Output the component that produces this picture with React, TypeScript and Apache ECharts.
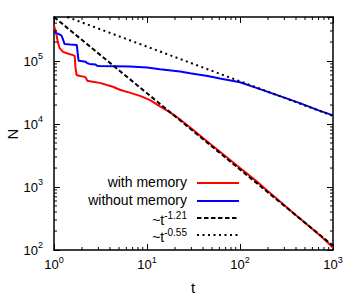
import React, { useEffect, useRef } from 'react';
import * as echarts from 'echarts';

const withMemoryT = [1, 1.05, 1.1, 1.15, 1.25, 1.4, 1.6, 1.67, 1.7, 1.75, 1.9, 2.15, 2.22, 2.28, 2.6, 3.1, 4.3, 5.1, 6.5, 8.4, 10.8, 13.8, 17.7, 22.7, 30, 40, 60, 100, 150, 200, 300, 400, 500, 700, 850, 1000];
const withMemoryN = [3.6e5, 2.9e5, 2.0e5, 1.6e5, 1.4e5, 1.32e5, 1.24e5, 1.2e5, 8.0e4, 6.0e4, 5.8e4, 5.6e4, 5.3e4, 4.85e4, 4.7e4, 4.5e4, 3.9e4, 3.5e4, 3.15e4, 2.8e4, 2.4e4, 1.9e4, 1.53e4, 1.18e4, 8.5e3, 6.0e3, 3.7e3, 2.0e3, 1.24e3, 860, 515, 355, 270, 178, 138, 108];

const withoutMemoryT = [1, 1.1, 1.2, 1.25, 1.3, 1.5, 1.76, 1.8, 1.84, 2.2, 2.26, 2.4, 2.8, 2.9, 3.1, 4.5, 6.56, 10, 13.8, 22.7, 29, 45, 60.8, 100, 150, 210, 300, 440, 700, 1000];
const withoutMemoryN = [2.85e5, 2.72e5, 2.55e5, 2.2e5, 1.86e5, 1.83e5, 1.8e5, 1.3e5, 1.01e5, 9.7e4, 9.3e4, 9.0e4, 8.8e4, 8.4e4, 8.35e4, 8.3e4, 8.2e4, 7.9e4, 7.4e4, 6.8e4, 6.4e4, 5.8e4, 5.3e4, 4.6e4, 3.75e4, 3.15e4, 2.62e4, 2.15e4, 1.65e4, 1.37e4];

const steepFitT = [1, 1000];
const steepFitN = [5e5, 117];
const shallowFitT = [1.39, 1000];
const shallowFitN = [5e5, 13450];

const xMinorTicks = [2, 3, 4, 5, 6, 7, 8, 9, 20, 30, 40, 50, 60, 70, 80, 90, 200, 300, 400, 500, 600, 700, 800, 900];
const yMinorTicks = [200, 300, 400, 500, 600, 700, 800, 900, 2000, 3000, 4000, 5000, 6000, 7000, 8000, 9000, 2e4, 3e4, 4e4, 5e4, 6e4, 7e4, 8e4, 9e4, 2e5, 3e5, 4e5];

const legendLabels = ['with memory', 'without memory', '~t{s|-1.21}', '~t{s|-0.55}'];
const Y_MIN = 100;
const Y_MAX = 5e5;

const FONT = '"Liberation Sans", Arial, Helvetica, sans-serif';

const zip = (a: number[], b: number[]) => a.map((v, i) => [v, b[i]]);

export default function App() {
  const ref = useRef<HTMLDivElement>(null);
  useEffect(() => {
    if (!ref.current) return;
    const chart = echarts.init(ref.current, undefined, { renderer: 'svg' });
    const supRich = { s: { fontSize: 9, fontFamily: FONT, color: '#000', padding: [0, 0, 10, 0] } };
    const labelFmt = (v: number) => `10{s|${Math.round(Math.log10(v))}}`;
    const axisCommon = {
      axisLine: { show: true, lineStyle: { color: '#000', width: 1.5 } },
      axisTick: { show: true, inside: true, length: 6, lineStyle: { color: '#000', width: 1 } },
      splitLine: { show: false },
      minorTick: { show: false },
    };
    const legendRows = [
      { y: 182, ly: 183, color: '#ff0000', dash: null as any },
      { y: 200, ly: 201, color: '#0000ff', dash: null as any },
      { y: 220, ly: 218, color: '#000', dash: [4.5, 2.5] },
      { y: 237, ly: 235, color: '#000', dash: [2, 3.5] },
    ];
    const graphics: any[] = [];
    legendRows.forEach((r, i) => {
      graphics.push({
        type: 'text', x: 187, y: r.y, z: 100,
        style: {
          text: legendLabels[i], align: 'right', verticalAlign: 'middle',
          fontSize: 14, fontFamily: FONT, fill: '#000',
          rich: { s: { fontSize: 10, fontFamily: FONT, fill: '#000', padding: [0, 0, 10, 0] } },
        },
      });
      graphics.push({
        type: 'line', z: 100,
        shape: { x1: 197, y1: r.ly, x2: 239, y2: r.ly },
        style: { stroke: r.color, lineWidth: 2, lineDash: r.dash || undefined },
      });
    });
    graphics.push({
      type: 'text', x: 12, y: 134, rotation: Math.PI / 2, z: 100,
      style: { text: 'N', align: 'center', verticalAlign: 'middle', fontSize: 15, fontFamily: FONT, fill: '#000' },
    });
    graphics.push({
      type: 'text', x: 193, y: 287, z: 100,
      style: { text: 't', align: 'center', verticalAlign: 'middle', fontSize: 15, fontFamily: FONT, fill: '#000' },
    });
    const minorX = {
      type: 'custom', xAxisIndex: 0, yAxisIndex: 0, silent: true, z: 10, clip: false,
      data: xMinorTicks.map(v => [v, Y_MIN]),
      renderItem: (params: any, api: any) => {
        const cs = params.coordSys;
        const p = api.coord([api.value(0), api.value(1)]);
        const bottom = cs.y + cs.height;
        return {
          type: 'group', children: [
            { type: 'line', shape: { x1: p[0], y1: bottom, x2: p[0], y2: bottom - 3 }, style: { stroke: '#000', lineWidth: 1 } },
            { type: 'line', shape: { x1: p[0], y1: cs.y, x2: p[0], y2: cs.y + 3 }, style: { stroke: '#000', lineWidth: 1 } },
          ],
        };
      },
    };
    const minorY = {
      type: 'custom', xAxisIndex: 0, yAxisIndex: 0, silent: true, z: 10, clip: false,
      data: yMinorTicks.map(v => [1, v]),
      renderItem: (params: any, api: any) => {
        const cs = params.coordSys;
        const p = api.coord([api.value(0), api.value(1)]);
        const right = cs.x + cs.width;
        return {
          type: 'group', children: [
            { type: 'line', shape: { x1: cs.x, y1: p[1], x2: cs.x + 3, y2: p[1] }, style: { stroke: '#000', lineWidth: 1 } },
            { type: 'line', shape: { x1: right, y1: p[1], x2: right - 3, y2: p[1] }, style: { stroke: '#000', lineWidth: 1 } },
          ],
        };
      },
    };
    chart.setOption({
      animation: false,
      backgroundColor: '#fff',
      grid: { left: 54, top: 17, width: 279, height: 233, containLabel: false, outerBoundsMode: 'none' },
      xAxis: [
        {
          ...axisCommon, type: 'log', logBase: 10, min: 1, max: 1000, position: 'bottom',
          axisLabel: { formatter: labelFmt, fontSize: 13, fontFamily: FONT, color: '#000', margin: 5, rich: supRich },
        },
        {
          ...axisCommon, type: 'log', logBase: 10, min: 1, max: 1000, position: 'top',
          axisLabel: { show: false },
        },
      ],
      yAxis: [
        {
          ...axisCommon, type: 'log', logBase: 10, min: Y_MIN, max: Y_MAX, position: 'left',
          axisLabel: { formatter: labelFmt, fontSize: 13, fontFamily: FONT, color: '#000', margin: 11, rich: supRich, showMaxLabel: false },
        },
        {
          ...axisCommon, type: 'log', logBase: 10, min: Y_MIN, max: Y_MAX, position: 'right',
          axisLabel: { show: false },
        },
      ],
      series: [
        {
          type: 'line', name: 'with memory', data: zip(withMemoryT, withMemoryN), showSymbol: false, symbol: 'none',
          lineStyle: { color: '#ff0000', width: 2 }, z: 2,
        },
        {
          type: 'line', name: 'without memory', data: zip(withoutMemoryT, withoutMemoryN), showSymbol: false, symbol: 'none',
          lineStyle: { color: '#0000ff', width: 2 }, z: 2,
        },
        {
          type: 'line', name: '~t^-1.21', data: zip(steepFitT, steepFitN), showSymbol: false, symbol: 'none',
          lineStyle: { color: '#000', width: 2, type: [4.5, 2.5] }, z: 3,
        },
        {
          type: 'line', name: '~t^-0.55', data: zip(shallowFitT, shallowFitN), showSymbol: false, symbol: 'none',
          lineStyle: { color: '#000', width: 2, type: [2, 3.5] }, z: 3,
        },
        minorX,
        minorY,
      ],
      graphic: graphics,
    });
    return () => chart.dispose();
  }, []);
  return <div ref={ref} style={{ position: 'fixed', left: 0, top: 0, width: 360, height: 298 }} />;
}
